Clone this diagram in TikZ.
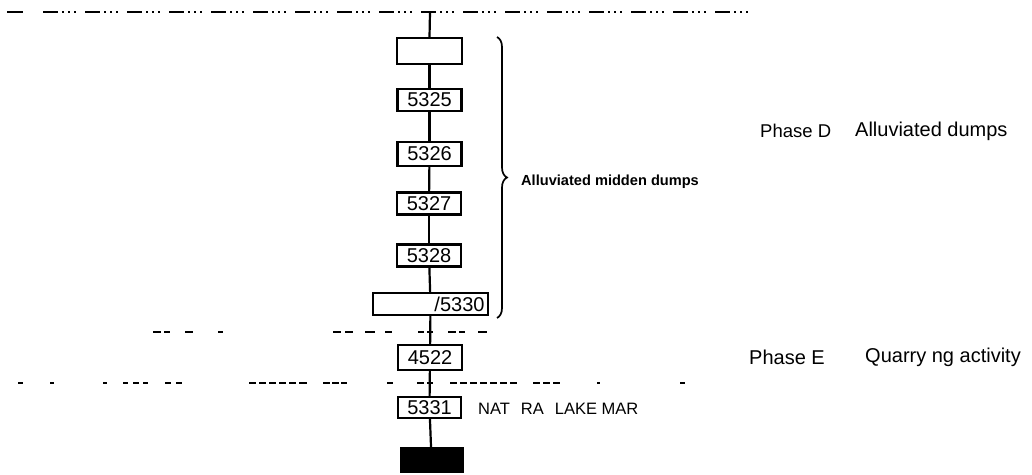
\documentclass[tikz,border=0pt]{standalone}
\usepackage{fontspec}
\setmainfont{Liberation Sans}
\usetikzlibrary{decorations.pathreplacing}
\tikzset{
  numbox/.style={draw, line width=2.2pt, minimum width=64pt, minimum height=22pt, inner sep=0pt, font=\fontsize{20}{20}\selectfont},
  conn/.style={line width=2.2pt},
  horizon/.style={line width=2.4pt},
  lbl/.style={font=\fontsize{20}{20}\selectfont, inner sep=0pt, anchor=west},
}
\begin{document}
\begin{tikzpicture}[x=1pt,y=-1pt]
\useasboundingbox (0,0) rectangle (1032,474);
% horizon lines
\draw[horizon] (7,12) -- (23,12);
\draw[horizon, dash pattern=on 15pt off 4pt on 2pt off 4pt on 2pt off 4pt on 2pt off 9pt] (43,12) -- (755,12);
\foreach \a/\b in {153/161,164/170,185/193,218/223,333/341,345/353,365/375,385/392,418/424,427/433,448/456,459/465,478/487}
  \draw[horizon, line width=1.8pt] (\a,332) -- (\b,332);
\foreach \a/\b in {18/23,50/54,103/107,123/128,133/139,143/148,165/171,176/182,249/256,259/266,269/276,279/286,289/296,299/307,323/330,332/339,341/347,387/393,417/424,427/433,450/457,460/467,470/477,480/487,490/497,500/507,510/517,533/540,543/550,553/560,597/600,680/685}
  \draw[horizon, line width=1.8pt] (\a,383) -- (\b,383);
% boxes
\coordinate (top) at (430,12);
\node[numbox, minimum width=65pt, minimum height=26pt] (b0) at (429.5,51) {};
\node[numbox] (b5325) at (429.5,100) {5325};
\node[numbox, minimum height=24pt] (b5326) at (429.5,154) {5326};
\node[numbox] (b5327) at (429,203.5) {5327};
\node[numbox] (b5328) at (429,255.5) {5328};
\node[numbox, minimum width=115pt, text width=108pt, align=right] (b5330) at (430.5,304) {/5330};
\node[numbox, minimum height=25pt] (b4522) at (430,357.5) {4522};
\node[numbox, minimum width=63pt, minimum height=21pt] (b5331) at (429.5,407.5) {5331};
\node[draw, fill=black, minimum width=63pt, minimum height=25pt, inner sep=0pt] (base) at (431.5,459.5) {};
% connectors
\draw[conn] (top) -- (b0.north);
\draw[conn] (b0) -- (b5325);
\draw[conn] (b5325) -- (b5326);
\draw[conn] (b5326) -- (b5327);
\draw[conn] (b5327) -- (b5328);
\draw[conn] (b5328) -- (b5330);
\draw[conn] (b5330) -- (b4522);
\draw[conn] (b4522) -- (b5331);
\draw[conn] (b5331) -- (base);
% brace
\coordinate (bt) at (497,37);
\coordinate (bb) at (497,318);
\draw[line width=1.7pt, decoration={brace, amplitude=10pt}, decorate] (bt) -- (bb);
\node[lbl, font=\bfseries\fontsize{14.6}{14.6}\selectfont] (midden) at (521,182) {Alluviated midden dumps};
% labels
\node[lbl, font=\fontsize{18.5}{18.5}\selectfont] (phd) at (760,131) {Phase D};
\node[lbl] (phdt) at (855,131) {Alluviated dumps};
\node[lbl] (phe) at (749,357) {Phase E};
\node[lbl] (phet) at (865,357) {Quarry ng activity};
\node[lbl, font=\fontsize{16.5}{16.5}\selectfont] (nat) at (478,409) {NAT\hspace{11pt}RA\hspace{11pt}LAKE MAR};
\end{tikzpicture}
\end{document}
